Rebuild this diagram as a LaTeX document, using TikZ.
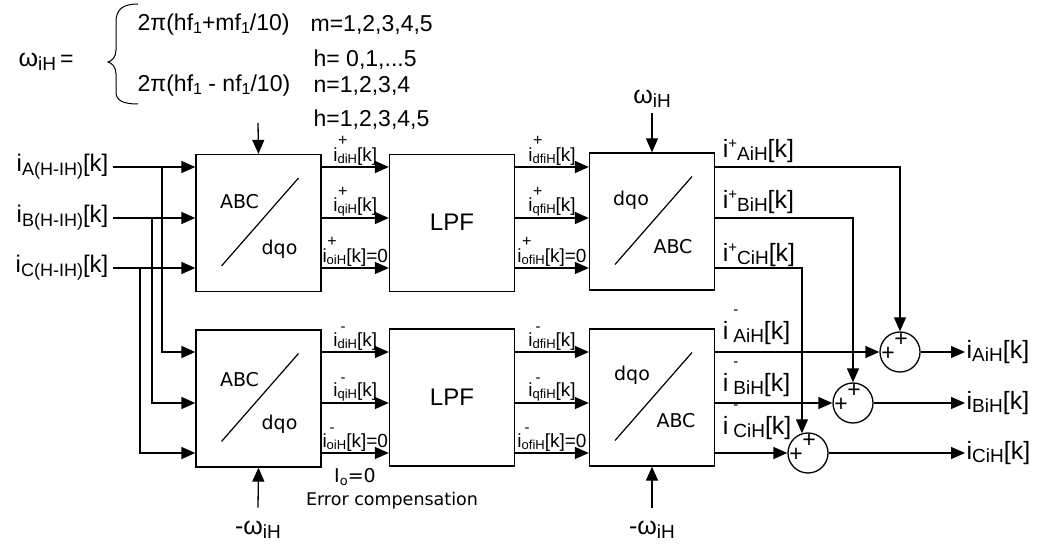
\documentclass[tikz,border=0pt]{standalone}
\usepackage{fontspec}
\setmainfont{Liberation Sans}
\newfontfamily\dvs{DejaVu Sans}
\usetikzlibrary{arrows.meta,calc}
\newcommand\fsz[1]{\fontsize{#1}{#1}\selectfont}
\newcommand\inlab[1]{{\fsz{24}i}\raisebox{-4pt}{\fsz{18}#1}{\fsz{24}[k]}}
\newcommand\tlp[2]{{\fsz{19}i}\rlap{\hspace{0.5pt}\raisebox{15.5pt}{\fsz{16}+}}\raisebox{-2pt}{\fsz{13}#1}{\fsz{19}[k]#2}}
\newcommand\tlm[2]{{\fsz{19}i}\rlap{\hspace{3pt}\raisebox{14.5pt}{\fsz{15}-}}\raisebox{-2pt}{\fsz{13}#1}{\fsz{19}[k]#2}}
\newcommand\olp[1]{{\fsz{25}i}\raisebox{9pt}{\fsz{15}+}\raisebox{-3pt}{\fsz{19}#1}{\fsz{25}[k]}}
\newcommand\olm[1]{{\fsz{25}i}\hspace{5pt}\rlap{\raisebox{25pt}{\fsz{15}-}}\raisebox{-3pt}{\fsz{19}#1}{\fsz{25}[k]}}
\newcommand\slab[1]{{\fsz{25}i}\raisebox{-3pt}{\fsz{19}#1}{\fsz{25}[k]}}
\newcommand\omg{{\fsz{25}ω}\raisebox{-4pt}{\fsz{19}iH}}
\newcommand\sone{\raisebox{-3pt}{\fsz{16}1}}
\begin{document}
\begin{tikzpicture}[x=1pt,y=-1pt,line width=1.3pt,
 arr/.style={-{Triangle[length=14pt,width=12pt]}},
 blk/.style={draw,minimum width=125pt,minimum height=137pt,inner sep=0pt},
 btxt/.style={font=\dvs\fsz{19},inner sep=0pt},
 tlb/.style={midway,above,inner sep=1pt},
 olb/.style={anchor=south west,inner sep=1pt,xshift=6pt},
 sumnode/.style={draw,circle,minimum size=40pt,inner sep=0pt},
 pl/.style={font=\fsz{23},inner sep=0pt},
 fml/.style={anchor=west,inner sep=0pt,font=\fsz{23}}]

\useasboundingbox (0,0) rectangle (1045,548);

% ---------- formula ----------
\node[anchor=west,inner sep=0pt] (omA) at (18,62) {\omg\hspace{4pt}{\fsz{23}=}};
\draw[line width=1pt] (138,4) .. controls (122,4) and (116,10) .. (116,22) -- (116,50)
  .. controls (116,57) and (112,61) .. (108,62) .. controls (112,63) and (116,67) .. (116,74)
  -- (116,92) .. controls (116,100) and (122,104) .. (138,104);
\node[fml] (f1) at (137,25) {2π(hf\sone+mf\sone/10)};
\node[fml] (f2) at (310,25) {m=1,2,3,4,5};
\node[fml] (f3) at (313,60) {h= 0,1,...5};
\node[fml] (f4) at (137,86) {2π(hf\sone\ - nf\sone/10)};
\node[fml] (f5) at (313,86) {n=1,2,3,4};
\node[fml] (f6) at (313,120) {h=1,2,3,4,5};
\coordinate (fIn) at (258,123);

% ---------- rows ----------
\coordinate (uA) at (0,167); \coordinate (uB) at (0,218); \coordinate (uC) at (0,268);
\coordinate (lA) at (0,352); \coordinate (lB) at (0,403); \coordinate (lC) at (0,453);

% ---------- blocks ----------
\node[blk] (abcU) at (258.5,223) {};
\node[blk] (lpfU) at (452,223) {};
\node[blk] (dqoU) at (652,221.5) {};
\node[blk] (abcL) at (258.5,398.5) {};
\node[blk] (lpfL) at (452,397.5) {};
\node[blk] (dqoL) at (652,397.5) {};

\foreach \b in {abcU,dqoU,abcL,dqoL}{
  \draw[line width=1.2pt] ($(\b.center)+(-37,43)$) -- ($(\b.center)+(40,-45)$);}
\node[btxt] (tAU) at ($(abcU.center)+(-19,-21)$) {ABC};
\node[btxt] (tBU) at ($(abcU.center)+(21,26)$) {dqo};
\node[btxt] (tAL) at ($(abcL.center)+(-19,-19)$) {ABC};
\node[btxt] (tBL) at ($(abcL.center)+(21,26)$) {dqo};
\node[btxt] (tCU) at ($(dqoU.center)+(-21,-21)$) {dqo};
\node[btxt] (tDU) at ($(dqoU.center)+(21,25)$) {ABC};
\node[btxt] (tCL) at ($(dqoL.center)+(-20,-22)$) {dqo};
\node[btxt] (tDL) at ($(dqoL.center)+(24,23)$) {ABC};
\node[font=\fsz{24},inner sep=0pt] (lpU) at (452,222) {LPF};
\node[font=\fsz{24},inner sep=0pt] (lpL) at (452,397) {LPF};

% ---------- inputs ----------
\node[anchor=east,inner sep=0pt] (inA) at (109,167) {\inlab{A(H-IH)}};
\node[anchor=east,inner sep=0pt] (inB) at (109,218) {\inlab{B(H-IH)}};
\node[anchor=east,inner sep=0pt] (inC) at (109,268) {\inlab{C(H-IH)}};
\coordinate (rA) at (113,167); \coordinate (rB) at (113,218); \coordinate (rC) at (113,268);
\draw[arr] (rA) -- (abcU.west |- uA);
\draw[arr] (rB) -- (abcU.west |- uB);
\draw[arr] (rC) -- (abcU.west |- uC);
\coordinate (tA) at (162,167); \coordinate (tB) at (152,218); \coordinate (tC) at (140,268);
\draw[arr] (tA) |- (abcL.west |- lA);
\draw[arr] (tB) |- (abcL.west |- lB);
\draw[arr] (tC) |- (abcL.west |- lC);
\draw[arr] (fIn) -- (abcU.north);

% ---------- upper chain ----------
\draw[arr] (abcU.east |- uA) -- node[tlb] {\tlp{diH}{}} (lpfU.west |- uA);
\draw[arr] (abcU.east |- uB) -- node[tlb] {\tlp{qiH}{}} (lpfU.west |- uB);
\draw[arr] (abcU.east |- uC) -- node[tlb] {\tlp{oiH}{=0}} (lpfU.west |- uC);
\draw[arr] (lpfU.east |- uA) -- node[tlb] {\tlp{dfiH}{}} (dqoU.west |- uA);
\draw[arr] (lpfU.east |- uB) -- node[tlb] {\tlp{qfiH}{}} (dqoU.west |- uB);
\draw[arr] (lpfU.east |- uC) -- node[tlb] {\tlp{ofiH}{=0}} (dqoU.west |- uC);

% ---------- lower chain ----------
\draw[arr] (abcL.east |- lA) -- node[tlb] {\tlm{diH}{}} (lpfL.west |- lA);
\draw[arr] (abcL.east |- lB) -- node[tlb] {\tlm{qiH}{}} (lpfL.west |- lB);
\draw[arr] (abcL.east |- lC) -- node[tlb] {\tlm{oiH}{=0}} (lpfL.west |- lC);
\draw[arr] (lpfL.east |- lA) -- node[tlb] {\tlm{dfiH}{}} (dqoL.west |- lA);
\draw[arr] (lpfL.east |- lB) -- node[tlb] {\tlm{qfiH}{}} (dqoL.west |- lB);
\draw[arr] (lpfL.east |- lC) -- node[tlb] {\tlm{ofiH}{=0}} (dqoL.west |- lC);

% ---------- omega inputs ----------
\node[inner xsep=0pt,inner ysep=5pt] (omU) at (652,99) {\omg};
\draw[arr] (omU.south) -- (dqoU.north);
\node[inner xsep=0pt,inner ysep=13pt] (omL1) at (258,530) {{\fsz{25}-}\omg};
\node[inner xsep=0pt,inner ysep=13pt] (omL2) at (652,530) {{\fsz{25}-}\omg};
\draw[arr] (omL1.north) -- (abcL.south);
\draw[arr] (omL2.north) -- (dqoL.south);

\node[font=\dvs\fsz{19},inner sep=0pt] (io) at (355,477) {I\raisebox{-3pt}{\fsz{13}o}=0};
\node[font=\dvs\fsz{17.5},inner sep=0pt] (ec) at (392,501) {Error compensation};

% ---------- summers ----------
\node[sumnode] (sA) at (900,352) {};
\node[sumnode] (sB) at (853,403) {};
\node[sumnode] (sC) at (808,453) {};
\foreach \s in {sA,sB,sC}{
  \node[pl] at ($(\s.center)+(-12,2)$) {+};
  \node[pl] at ($(\s.center)+(1,-12)$) {+};}

\draw[arr] (dqoU.east |- uA) node[olb,yshift=3pt] {\olp{AiH}} -| (sA.north);
\draw[arr] (dqoU.east |- uB) node[olb,yshift=3pt] {\olp{BiH}} -| (sB.north);
\draw[arr] (dqoU.east |- uC) node[olb,yshift=0pt] {\olp{CiH}} -| (sC.107);
\draw[arr] (dqoL.east |- lA) node[olb,yshift=6pt] {\olm{AiH}} -- (sA.west);
\draw[arr] (dqoL.east |- lB) node[olb,yshift=5pt] {\olm{BiH}} -- (sB.west);
\draw[arr] (dqoL.east |- lC) node[olb,yshift=12pt] {\olm{CiH}} -- (sC.west);

\node[anchor=west,inner sep=1pt] (oA) at (965,352) {\slab{AiH}};
\node[anchor=west,inner sep=1pt] (oB) at (965,403) {\slab{BiH}};
\node[anchor=west,inner sep=1pt] (oC) at (965,453) {\slab{CiH}};
\draw[arr] (sA.east) -- (oA.west);
\draw[arr] (sB.east) -- (oB.west);
\draw[arr] (sC.east) -- (oC.west);
\end{tikzpicture}
\end{document}
